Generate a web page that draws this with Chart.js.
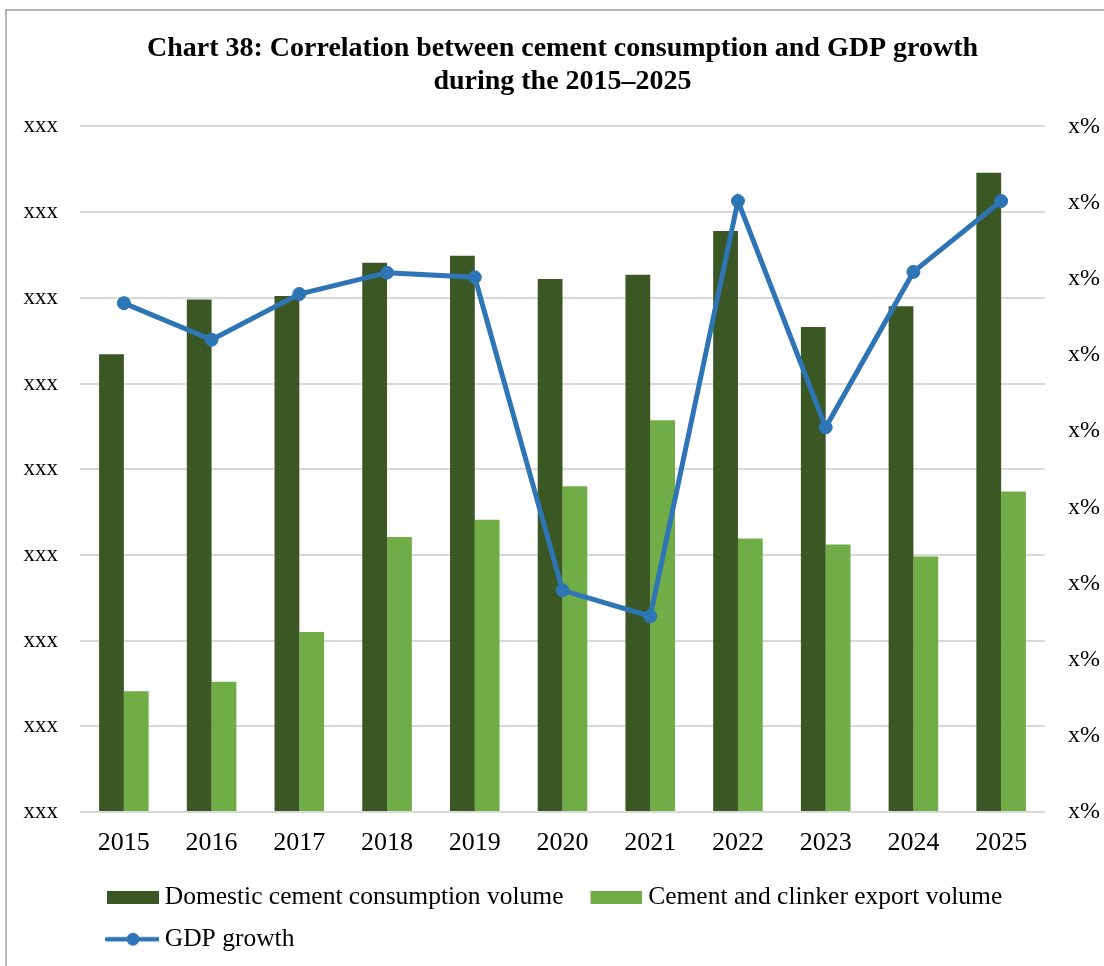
<!DOCTYPE html>
<html>
<head>
<meta charset="utf-8">
<title>Chart 38</title>
<script src="https://cdn.jsdelivr.net/npm/chart.js@4.4.1/dist/chart.umd.min.js"></script>
<style>
  html, body { margin: 0; padding: 0; background: #ffffff; overflow: hidden; }
  #keret {
    position: absolute; left: 5px; top: 9px; width: 2000px; height: 2000px;
    border-left: 2px solid #b3b3b3; border-top: 2px solid #b3b3b3;
  }
  #doboz { position: absolute; left: 0; top: 0; width: 1104px; height: 966px; }
</style>
</head>
<body>
<div id="keret"></div>
<div id="doboz"><canvas id="myChart" width="1104" height="966"></canvas></div>
<script>
// adatok
var evek = ["2015", "2016", "2017", "2018", "2019", "2020", "2021", "2022", "2023", "2024", "2025"];
var belfoldi = [5.34, 5.98, 6.02, 6.41, 6.49, 6.22, 6.27, 6.78, 5.66, 5.90, 7.46];
var export_ = [1.41, 1.52, 2.10, 3.21, 3.41, 3.80, 4.57, 3.19, 3.12, 2.98, 3.74];
var gdp = [6.68, 6.20, 6.80, 7.08, 7.02, 2.91, 2.57, 8.02, 5.05, 7.09, 8.02];

// tengelyfeliratok
var balFeliratok = ["xxx", "xxx", "xxx", "xxx", "xxx", "xxx", "xxx", "xxx", "xxx"];
var jobbFeliratok = ["x%", "x%", "x%", "x%", "x%", "x%", "x%", "x%", "x%", "x%"];

var sotetZold = "#3a5724";
var vilagosZold = "#70ad47";
var kek = "#2e75b6";
var betu = "'Liberation Serif', 'Times New Roman', serif";

// jelmagyarázat ikonok (kis canvas képek)
function dobozKep(szin) {
    var c = document.createElement("canvas");
    c.width = 70;
    c.height = 13;
    var k = c.getContext("2d");
    k.fillStyle = szin;
    k.fillRect(18, 0, 52, 13);
    return c;
}
function vonalKep() {
    var c = document.createElement("canvas");
    c.width = 70;
    c.height = 16;
    var k = c.getContext("2d");
    k.strokeStyle = kek;
    k.lineWidth = 4.5;
    k.lineCap = "round";
    k.beginPath();
    k.moveTo(18, 8);
    k.lineTo(70, 8);
    k.stroke();
    k.fillStyle = kek;
    k.beginPath();
    k.arc(44, 8, 6.5, 0, Math.PI * 2);
    k.fill();
    return c;
}
var ikonok = [dobozKep(sotetZold), dobozKep(vilagosZold), vonalKep()];

new Chart("myChart", {
    type: "bar",
    data: {
        labels: evek,
        datasets: [{
            label: "Domestic cement consumption volume",
            data: belfoldi,
            backgroundColor: sotetZold,
            borderWidth: 0,
            yAxisID: "y",
            order: 1
        }, {
            label: "Cement and clinker export volume",
            data: export_,
            backgroundColor: vilagosZold,
            borderWidth: 0,
            yAxisID: "y",
            order: 2
        }, {
            type: "line",
            label: "GDP growth",
            data: gdp,
            borderColor: kek,
            backgroundColor: kek,
            borderWidth: 5,
            pointRadius: 6.5,
            pointBorderWidth: 1,
            pointBackgroundColor: kek,
            pointBorderColor: kek,
            tension: 0,
            yAxisID: "y2",
            order: 0
        }]
    },
    options: {
        responsive: false,
        animation: false,
        devicePixelRatio: 1,
        categoryPercentage: 0.565,
        barPercentage: 1,
        layout: {
            padding: { left: 0, right: 0, top: 0, bottom: 4 }
        },
        plugins: {
            tooltip: { enabled: false },
            title: {
                display: true,
                fullSize: false,
                text: ["Chart 38: Correlation between cement consumption and GDP growth", "during the 2015\u20132025"],
                color: "#000000",
                font: { family: betu, size: 28, weight: "bold", lineHeight: 1.15 },
                padding: { top: 33, bottom: 29 }
            },
            legend: {
                position: "bottom",
                align: "start",
                fullSize: false,
                labels: {
                    color: "#000000",
                    font: { family: betu, size: 25.5 },
                    usePointStyle: true,
                    pointStyleWidth: 56,
                    boxHeight: 13,
                    padding: 16,
                    sort: function (a, b) { return a.datasetIndex - b.datasetIndex; },
                    generateLabels: function (chart) {
                        var lista = Chart.defaults.plugins.legend.labels.generateLabels(chart);
                        lista.forEach(function (elem) {
                            elem.pointStyle = ikonok[elem.datasetIndex];
                            elem.lineWidth = 0;
                        });
                        return lista;
                    }
                }
            }
        },
        scales: {
            x: {
                grid: { display: false, drawTicks: false },
                border: { display: false },
                afterFit: function (tengely) { tengely.height = 57; },
                ticks: {
                    color: "#000000",
                    padding: 9,
                    font: { family: betu, size: 26, lineHeight: 1.69 }
                }
            },
            y: {
                position: "left",
                min: 0,
                max: 8,
                grid: { color: "#d9d9d9", lineWidth: 2, drawTicks: false },
                border: { display: false },
                afterFit: function (tengely) { tengely.width = 80; },
                ticks: {
                    stepSize: 1,
                    padding: 22,
                    color: "#000000",
                    font: { family: betu, size: 23 },
                    callback: function (ertek, index) { return balFeliratok[index]; }
                }
            },
            y2: {
                position: "right",
                min: 0,
                max: 9,
                grid: { display: false, drawTicks: false },
                border: { display: false },
                afterFit: function (tengely) { tengely.width = 59; },
                ticks: {
                    stepSize: 1,
                    padding: 23,
                    color: "#000000",
                    font: { family: betu, size: 24 },
                    callback: function (ertek, index) { return jobbFeliratok[index]; }
                }
            }
        }
    }
});
</script>
</body>
</html>
